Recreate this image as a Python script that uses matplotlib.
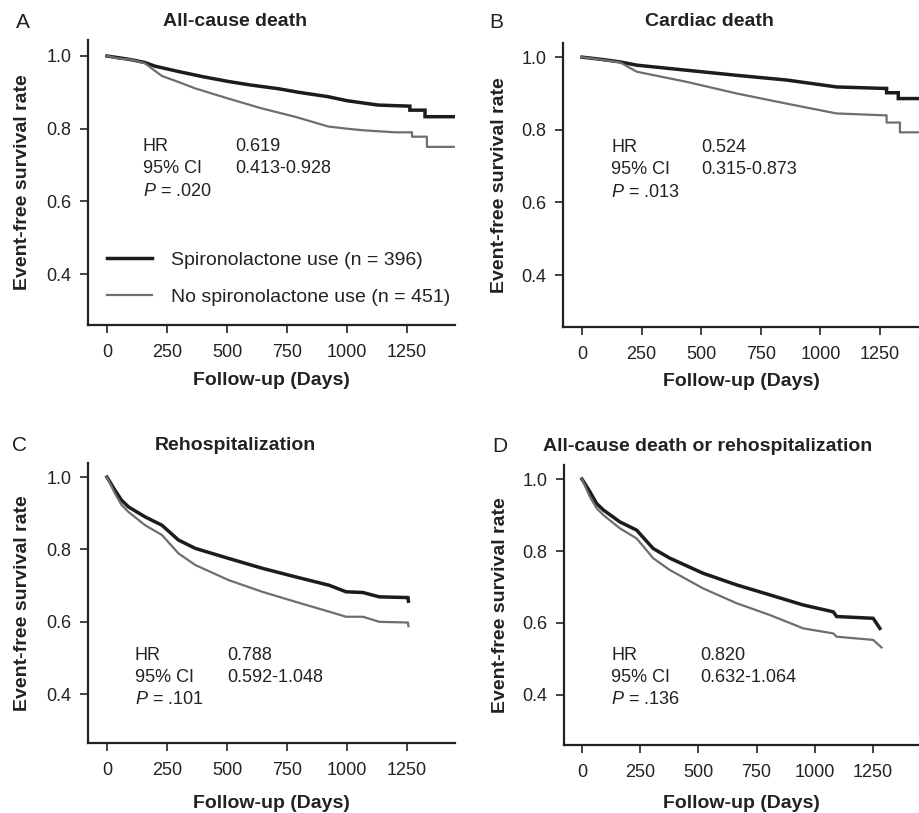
import matplotlib
matplotlib.use('Agg')
import matplotlib.pyplot as plt

plt.rcParams['font.family'] = ['Liberation Sans', 'DejaVu Sans']
plt.rcParams['mathtext.fontset'] = 'custom'
plt.rcParams['mathtext.it'] = 'Liberation Sans:italic'
plt.rcParams['mathtext.rm'] = 'Liberation Sans'

# ---------------- data ----------------
panel_letters = ['A', 'B', 'C', 'D']
panel_titles = ['All-cause death', 'Cardiac death', 'Rehospitalization',
                'All-cause death or rehospitalization']
group_labels = ['Spironolactone use (n = 396)', 'No spironolactone use (n = 451)']
x_ticks = [0, 250, 500, 750, 1000, 1250]
y_ticks = [0.4, 0.6, 0.8, 1.0]

hr_values = ['0.619', '0.524', '0.788', '0.820']
ci_values = ['0.413-0.928', '0.315-0.873', '0.592-1.048', '0.632-1.064']
p_values = ['.020', '.013', '.101', '.136']

# Panel A: all-cause death
a_spiro_t = [0, 50, 100, 158, 200, 300, 400, 505, 600, 714, 800, 922, 1000, 1130, 1262, 1262, 1325, 1325, 1445]
a_spiro_s = [1.0, 0.995, 0.99, 0.982, 0.972, 0.957, 0.943, 0.930, 0.920, 0.910, 0.900, 0.888, 0.877, 0.865, 0.862, 0.851, 0.851, 0.833, 0.833]
a_no_t = [0, 50, 100, 158, 229, 300, 367, 505, 644, 783, 922, 1000, 1061, 1200, 1271, 1271, 1333, 1333, 1445]
a_no_s = [1.0, 0.993, 0.99, 0.980, 0.945, 0.928, 0.911, 0.883, 0.856, 0.833, 0.806, 0.800, 0.796, 0.790, 0.790, 0.778, 0.778, 0.750, 0.750]

# Panel B: cardiac death
b_spiro_t = [0, 80, 159, 229, 439, 649, 859, 1068, 1264, 1278, 1278, 1327, 1327, 1409]
b_spiro_s = [1.0, 0.994, 0.987, 0.978, 0.964, 0.950, 0.937, 0.918, 0.914, 0.914, 0.902, 0.902, 0.886, 0.886]
b_no_t = [0, 80, 159, 229, 439, 649, 859, 1068, 1264, 1278, 1278, 1334, 1334, 1409]
b_no_s = [1.0, 0.993, 0.986, 0.960, 0.932, 0.900, 0.872, 0.845, 0.840, 0.840, 0.820, 0.820, 0.793, 0.793]

# Panel C: rehospitalization
c_spiro_t = [0, 33, 61, 89, 159, 229, 298, 368, 508, 647, 787, 926, 996, 1066, 1135, 1254, 1256]
c_spiro_s = [1.0, 0.964, 0.936, 0.918, 0.890, 0.867, 0.826, 0.803, 0.775, 0.748, 0.724, 0.701, 0.683, 0.681, 0.669, 0.667, 0.657]
c_no_t = [0, 33, 61, 89, 159, 229, 298, 368, 508, 647, 787, 926, 996, 1066, 1135, 1254, 1256]
c_no_s = [1.0, 0.955, 0.923, 0.904, 0.867, 0.840, 0.789, 0.757, 0.715, 0.683, 0.655, 0.628, 0.614, 0.614, 0.600, 0.598, 0.588]

# Panel D: all-cause death or rehospitalization
d_spiro_t = [0, 34, 63, 92, 163, 235, 306, 378, 521, 664, 808, 951, 1080, 1094, 1251, 1280]
d_spiro_s = [1.0, 0.965, 0.932, 0.914, 0.881, 0.858, 0.807, 0.780, 0.738, 0.706, 0.678, 0.650, 0.631, 0.618, 0.613, 0.585]
d_no_t = [0, 34, 63, 92, 163, 235, 306, 378, 521, 664, 808, 951, 1080, 1094, 1251, 1287]
d_no_s = [1.0, 0.951, 0.919, 0.900, 0.863, 0.835, 0.780, 0.747, 0.696, 0.655, 0.622, 0.585, 0.571, 0.562, 0.553, 0.532]

curves = [
    ((a_spiro_t, a_spiro_s), (a_no_t, a_no_s)),
    ((b_spiro_t, b_spiro_s), (b_no_t, b_no_s)),
    ((c_spiro_t, c_spiro_s), (c_no_t, c_no_s)),
    ((d_spiro_t, d_spiro_s), (d_no_t, d_no_s)),
]

# ---------------- layout ----------------
W, H = 919, 813
fig = plt.figure(figsize=(W / 100, H / 100), dpi=100)

# axes boxes in pixels: left, right, top, bottom
boxes = [(88, 455, 40, 325), (563, 919, 43, 327), (88, 455, 463, 743), (564, 919, 465, 745)]
xlims = [(-79, 1450), (-80, 1414), (-79, 1450), (-77, 1448)]
ylims = [(0.26, 1.044), (0.257, 1.039), (0.265, 1.039), (0.261, 1.039)]
title_pos = [(235, 22), (709, 22), (235, 445), (708, 446)]
letter_pos = [(16, 22), (489, 22), (12, 445), (492, 446)]
stat_pos = [((150, 0.752), 533), ((122, 0.752), 499), ((115, 0.508), 502), ((125, 0.511), 507)]
xlabel_y = [-0.165, -0.162, -0.186, -0.179]

dark = '#1c1c1c'
grey = '#6e6e6e'

for i in range(4):
    l, r, t, b = boxes[i]
    ax = fig.add_axes([l / W, 1 - b / H, (r - l) / W, (b - t) / H])
    ax.set_xlim(*xlims[i])
    ax.set_ylim(*ylims[i])
    (st, ss), (nt, ns) = curves[i]
    h1, = ax.plot(st, ss, color=dark, lw=2.5, solid_joinstyle='miter')
    h2, = ax.plot(nt, ns, color=grey, lw=1.6)
    for sp in ['top', 'right']:
        ax.spines[sp].set_visible(False)
    for sp in ['left', 'bottom']:
        ax.spines[sp].set_linewidth(1.6)
        ax.spines[sp].set_color('#222222')
    ax.set_xticks(x_ticks)
    ax.set_xticklabels([str(v) for v in x_ticks])
    ax.set_yticks(y_ticks)
    ax.set_yticklabels(['%.1f' % v for v in y_ticks])
    ax.tick_params(axis='both', direction='out', length=6, width=1.2,
                   colors='#222222', labelsize=13)
    ax.tick_params(axis='x', pad=8)
    ax.tick_params(axis='y', pad=6)
    ax.set_xlabel('Follow-up (Days)', fontsize=14, fontweight='bold', color='#222222')
    ax.set_ylabel('Event-free survival rate', fontsize=14, fontweight='bold', color='#222222')
    ax.xaxis.set_label_coords(0.5, xlabel_y[i])
    ax.yaxis.set_label_coords(-0.155, 0.5)

    (x0, y0), x1 = stat_pos[i]
    dy = 0.062
    ax.text(x0, y0, 'HR', fontsize=13, va='center', color='#222222')
    ax.text(x0, y0 - dy, '95% CI', fontsize=13, va='center', color='#222222')
    ax.text(x0, y0 - 2 * dy, '$\\it{P}$ = ' + p_values[i], fontsize=13, va='center', color='#222222')
    ax.text(x1, y0, hr_values[i], fontsize=13, va='center', color='#222222')
    ax.text(x1, y0 - dy, ci_values[i], fontsize=13, va='center', color='#222222')

    if i == 0:
        ax.legend([h1, h2], group_labels, loc='lower left', bbox_to_anchor=(0.052, 0.068),
                  frameon=False, fontsize=14, handlelength=2.3, handletextpad=1.0,
                  labelspacing=1.0, borderpad=0, borderaxespad=0,
                  labelcolor='#222222')

    fig.text(title_pos[i][0] / W, 1 - title_pos[i][1] / H, panel_titles[i],
             ha='center', va='center', fontsize=14, fontweight='bold', color='#222222')
    fig.text(letter_pos[i][0] / W, 1 - letter_pos[i][1] / H, panel_letters[i],
             ha='left', va='center', fontsize=15, color='#222222')

fig.savefig('out.png', dpi=100)
